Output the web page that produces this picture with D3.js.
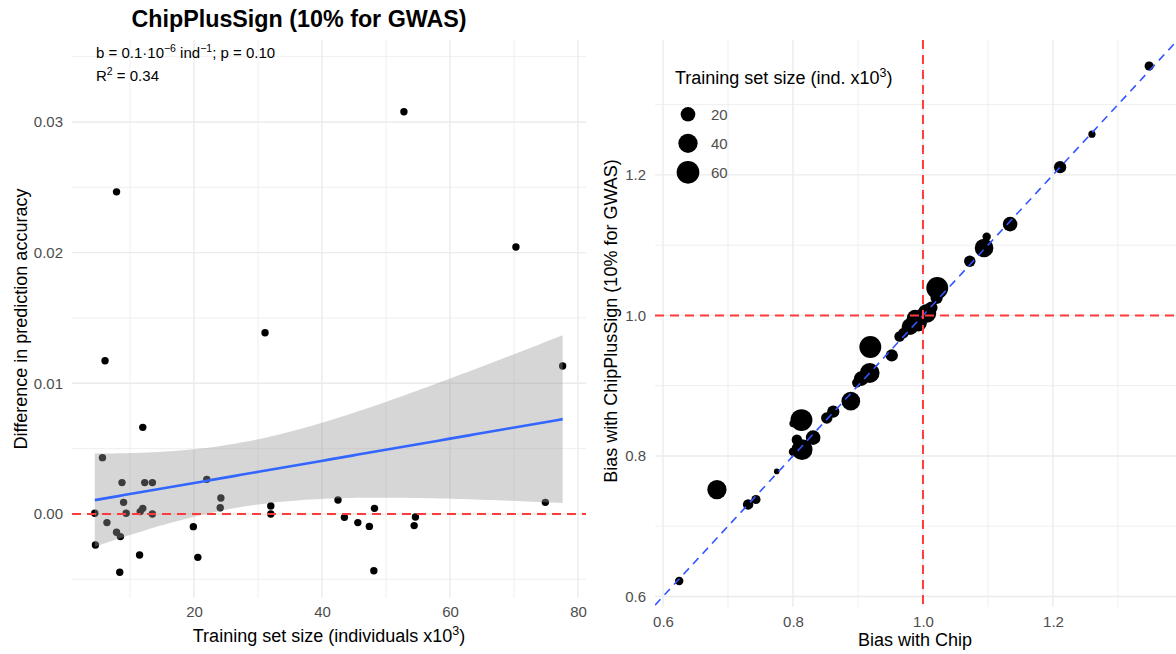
<!DOCTYPE html>
<html><head><meta charset="utf-8">
<script src="https://cdn.jsdelivr.net/npm/d3@7"></script>
<style>body{margin:0;background:#fff}svg{display:block;font-family:"Liberation Sans",Arial,Helvetica,sans-serif}</style>
</head><body><svg id="c" width="1176" height="654"></svg>
<script>
// ---------- data: left panel ----------
const trainSize = [4.5,4.6,5.7,6.1,6.4,7.9,7.9,8.4,8.5,8.75,9.0,9.4,11.5,11.6,12.0,12.0,12.3,13.5,13.5,19.9,20.6,22.0,24.1,24.2,31.1,32.0,32.0,42.5,43.5,45.6,47.4,48.1,48.2,52.8,54.4,54.6,70.3,74.9,77.6];
const accDiff   = [0.00005,-0.00237,0.00431,0.01173,-0.00066,0.02465,-0.0014,-0.00446,-0.00173,0.0024,0.00089,0.00005,-0.00314,0.00018,0.00043,0.00663,0.0024,0.0024,0.0,-0.00097,-0.00332,0.00265,0.00048,0.00122,0.01387,0.00061,0.0,0.00107,-0.00026,-0.00066,-0.00095,-0.00434,0.00043,0.03078,-0.00089,-0.00023,0.02043,0.00089,0.01132];
// ---------- data: right panel ----------
const biasChip     = [0.625,0.683,0.731,0.743,0.775,0.800,0.800,0.806,0.813,0.814,0.831,0.852,0.862,0.889,0.898,0.905,0.918,0.919,0.952,0.964,0.970,0.980,0.988,0.993,1.006,1.013,1.021,1.022,1.072,1.094,1.098,1.134,1.211,1.260,1.348];
const biasChipPlus = [0.622,0.752,0.731,0.738,0.778,0.806,0.846,0.823,0.851,0.809,0.826,0.854,0.863,0.878,0.904,0.910,0.918,0.955,0.943,0.970,0.975,0.984,0.996,0.989,1.003,1.011,1.025,1.039,1.077,1.096,1.112,1.130,1.211,1.258,1.355];
const sizeRight    = [6,40,9,7,4.5,6,5,9,55,49,20,11,13,37,7,20,43,55,13,9,9,28,28,28,37,13,13,55,11,37,6,20,13,5,7];
// ---------- ticks ----------
const leftXTicks = [20,40,60,80], leftXMinor = [10,30,50,70];
const leftYTicks = [0,0.01,0.02,0.03], leftYMinor = [-0.005,0.005,0.015,0.025,0.035];
const rightTicks = [0.6,0.8,1.0,1.2], rightMinor = [0.7,0.9,1.1,1.3];
const legendSizes = [20,40,60];
const annotationB = "0.1", annotationP = "0.10", annotationR2 = "0.34";

const svg = d3.select("#c");
svg.append("rect").attr("width",1176).attr("height",654).attr("fill","#fff");

const TICKCOL = "#4d4d4d", GRID = "#ebebeb";

// ---------- LEFT PANEL ----------
const L = {x0:72, x1:586, y0:40, y1:598};
const xL = d3.scaleLinear().domain([0.94, 81.25]).range([L.x0, L.x1]);
const yL = d3.scaleLinear().domain([-0.00643, 0.03627]).range([L.y1, L.y0]);
const gL = svg.append("g");

function grid(g, xs, ys, xsc, ysc, P, w){
  g.selectAll(null).data(xs).enter().append("line")
    .attr("x1",d=>xsc(d)).attr("x2",d=>xsc(d)).attr("y1",P.y0).attr("y2",P.y1)
    .attr("stroke",GRID).attr("stroke-width",w);
  g.selectAll(null).data(ys).enter().append("line")
    .attr("y1",d=>ysc(d)).attr("y2",d=>ysc(d)).attr("x1",P.x0).attr("x2",P.x1)
    .attr("stroke",GRID).attr("stroke-width",w);
}
grid(gL, leftXMinor, leftYMinor, xL, yL, L, 0.8);
grid(gL, leftXTicks, leftYTicks, xL, yL, L, 1.4);

// points
gL.selectAll("circle.pt").data(trainSize.map((x,i)=>({x, y:accDiff[i]}))).enter()
  .append("circle").attr("cx",d=>xL(d.x)).attr("cy",d=>yL(d.y)).attr("r",3.7).attr("fill","#000");

// linear fit + 95% CI
const n = trainSize.length;
const xbar = d3.mean(trainSize), ybar = d3.mean(accDiff);
let Sxx=0,Sxy=0;
for(let i=0;i<n;i++){Sxx+=(trainSize[i]-xbar)**2; Sxy+=(trainSize[i]-xbar)*(accDiff[i]-ybar);}
const b = Sxy/Sxx, a = ybar - b*xbar;
let SSE=0; for(let i=0;i<n;i++){SSE+=(accDiff[i]-a-b*trainSize[i])**2;}
const s = Math.sqrt(SSE/(n-2)), tq = 2.026;
const [xmin,xmax] = d3.extent(trainSize);
const fitPts = d3.range(0,81).map(k=>{const x=xmin+(xmax-xmin)*k/80; const f=a+b*x; const se=s*Math.sqrt(1/n+(x-xbar)**2/Sxx); return {x,f,lo:f-tq*se,hi:f+tq*se};});
gL.append("path").datum(fitPts)
  .attr("d", d3.area().x(d=>xL(d.x)).y0(d=>yL(d.lo)).y1(d=>yL(d.hi)))
  .attr("fill","#999999").attr("fill-opacity",0.4);
gL.append("path").datum(fitPts)
  .attr("d", d3.line().x(d=>xL(d.x)).y(d=>yL(d.f)))
  .attr("fill","none").attr("stroke","#3366FF").attr("stroke-width",2.6);
// zero line
gL.append("line").attr("x1",L.x0).attr("x2",L.x1).attr("y1",yL(0)).attr("y2",yL(0))
  .attr("stroke","#ff3b3b").attr("stroke-width",2).attr("stroke-dasharray","9,6");

// axes
function styleAxis(g){
  g.select(".domain").remove();
  g.selectAll("text").attr("fill",TICKCOL).attr("font-size",15).attr("font-family",null);
  g.attr("font-family",null).attr("font-size",null);
}
gL.append("g").attr("transform",`translate(${L.x0},0)`)
  .call(d3.axisLeft(yL).tickValues(leftYTicks).tickSize(0).tickPadding(9).tickFormat(d3.format(".2f"))).call(styleAxis);
gL.append("g").attr("transform",`translate(0,${L.y1})`)
  .call(d3.axisBottom(xL).tickValues(leftXTicks).tickSize(0).tickPadding(8.5).tickFormat(d3.format("d"))).call(styleAxis);

// titles
const tx = gL.append("text").attr("x",(L.x0+L.x1)/2).attr("y",642).attr("text-anchor","middle").attr("font-size",18).attr("fill","#000");
tx.append("tspan").text("Training set size (individuals x10");
tx.append("tspan").attr("dy",-7).attr("font-size",12.5).text("3");
tx.append("tspan").attr("dy",7).text(")");
gL.append("text").attr("transform","translate(27,319) rotate(-90)").attr("text-anchor","middle")
  .attr("font-size",18).attr("fill","#000").text("Difference in prediction accuracy");
svg.append("text").attr("x",299).attr("y",27).attr("text-anchor","middle").attr("font-size",23.3)
  .attr("font-weight","bold").attr("fill","#000").text("ChipPlusSign (10% for GWAS)");
// annotation
const an1 = svg.append("text").attr("x",96).attr("y",58).attr("font-size",15).attr("fill","#000");
an1.append("tspan").text("b = " + annotationB + "·10");
an1.append("tspan").attr("dy",-6).attr("font-size",10.5).text("−6");
an1.append("tspan").attr("dy",6).text(" ind");
an1.append("tspan").attr("dy",-6).attr("font-size",10.5).text("−1");
an1.append("tspan").attr("dy",6).text("; p = " + annotationP);
const an2 = svg.append("text").attr("x",96).attr("y",81).attr("font-size",15).attr("fill","#000");
an2.append("tspan").text("R");
an2.append("tspan").attr("dy",-6).attr("font-size",10.5).text("2");
an2.append("tspan").attr("dy",6).text(" = " + annotationR2);

// ---------- RIGHT PANEL ----------
const R = {x0:655, x1:1181, y0:40, y1:607};
const xR = d3.scaleLinear().domain([0.5877, 1.397]).range([R.x0, R.x1]);
const yR = d3.scaleLinear().domain([0.585, 1.392]).range([R.y1, R.y0]);
const gR = svg.append("g");
svg.append("defs").append("clipPath").attr("id","clipR").append("rect")
  .attr("x",R.x0).attr("y",R.y0).attr("width",R.x1-R.x0).attr("height",R.y1-R.y0);
grid(gR, rightMinor, rightMinor, xR, yR, R, 0.8);
grid(gR, rightTicks, rightTicks, xR, yR, R, 1.4);

const sizeNorm = d3.scaleLinear().domain(d3.extent(trainSize)).range([0,1]).clamp(true);
const radius = d3.scaleLinear().domain([0,1]).range([2.8, 12.6]);
const rOf = v => radius(Math.sqrt(sizeNorm(v)));

const gRc = gR.append("g").attr("clip-path","url(#clipR)");
gRc.selectAll("circle.pt").data(biasChip.map((x,i)=>({x, y:biasChipPlus[i], s:sizeRight[i]}))).enter()
  .append("circle").attr("cx",d=>xR(d.x)).attr("cy",d=>yR(d.y)).attr("r",d=>rOf(d.s)).attr("fill","#000");
// identity line
const dom = xR.domain();
gRc.append("line").attr("x1",xR(dom[0])).attr("y1",yR(dom[0])).attr("x2",xR(dom[1])).attr("y2",yR(dom[1]))
  .attr("stroke","#3355ff").attr("stroke-width",1.6).attr("stroke-dasharray","8,6");
gRc.append("line").attr("x1",xR(1)).attr("x2",xR(1)).attr("y1",R.y0).attr("y2",R.y1)
  .attr("stroke","#ff3b3b").attr("stroke-width",2).attr("stroke-dasharray","9,6");
gRc.append("line").attr("y1",yR(1)).attr("y2",yR(1)).attr("x1",R.x0).attr("x2",R.x1)
  .attr("stroke","#ff3b3b").attr("stroke-width",2).attr("stroke-dasharray","9,6");

gR.append("g").attr("transform",`translate(${R.x0},0)`)
  .call(d3.axisLeft(yR).tickValues(rightTicks).tickSize(0).tickPadding(9).tickFormat(d3.format(".1f"))).call(styleAxis);
gR.append("g").attr("transform",`translate(0,${R.y1})`)
  .call(d3.axisBottom(xR).tickValues(rightTicks).tickSize(0).tickPadding(9.5).tickFormat(d3.format(".1f"))).call(styleAxis);
gR.append("text").attr("x",915).attr("y",646).attr("text-anchor","middle").attr("font-size",18).attr("fill","#000").text("Bias with Chip");
gR.append("text").attr("transform","translate(617,321) rotate(-90)").attr("text-anchor","middle")
  .attr("font-size",18).attr("fill","#000").text("Bias with ChipPlusSign (10% for GWAS)");

// legend
const lg = svg.append("g");
const lt = lg.append("text").attr("x",675).attr("y",84).attr("font-size",18).attr("fill","#000");
lt.append("tspan").text("Training set size (ind. x10");
lt.append("tspan").attr("dy",-7).attr("font-size",12.5).text("3");
lt.append("tspan").attr("dy",7).text(")");
legendSizes.forEach((v,i)=>{
  const cy = 114.3 + i*29;
  lg.append("circle").attr("cx",688).attr("cy",cy).attr("r",rOf(v)).attr("fill","#000");
  lg.append("text").attr("x",711).attr("y",cy).attr("dy","0.36em").attr("font-size",15).attr("fill",TICKCOL).text(v);
});
</script></body></html>
